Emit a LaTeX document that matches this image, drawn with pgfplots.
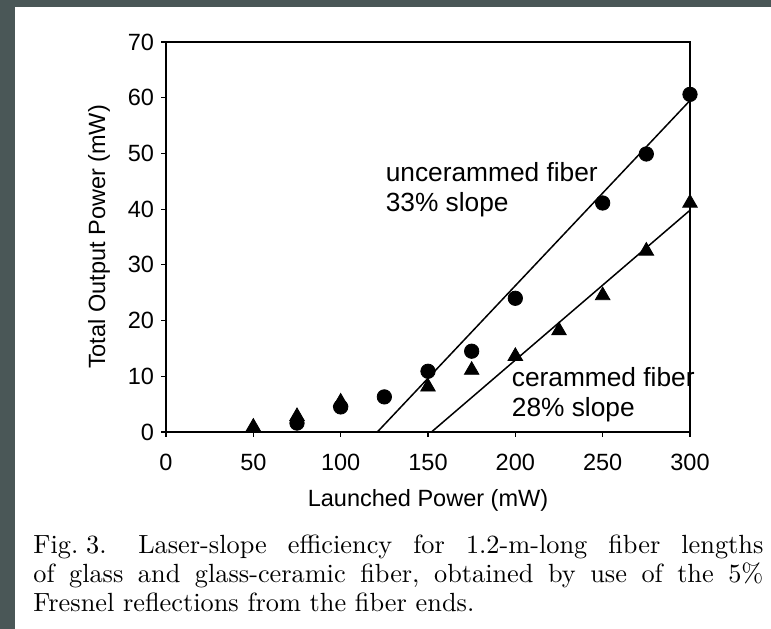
\documentclass[border=0pt]{standalone}
\usepackage{fontspec}
\newfontfamily\arial{Liberation Sans}
\newfontfamily\capfont{lmroman10-regular.otf}
\usepackage{pgfplots}
\pgfplotsset{compat=1.18}
\definecolor{bord}{RGB}{74,87,87}
\begin{document}
\begin{tikzpicture}
\fill[bord] (0,0) rectangle (385.5bp,-314.5bp);
\fill[white] (7.5bp,-3.5bp) rectangle (385.5bp,-314.5bp);
\useasboundingbox (0,0) rectangle (385.5bp,-314.5bp);
\begin{axis}[
  scale only axis, width=262bp, height=195bp,
  at={(83bp,-21bp)}, anchor=north west,
  xmin=0, xmax=300, ymin=0, ymax=70,
  xtick={0,50,...,300}, ytick={0,10,...,70},
  tick align=outside, xtick pos=bottom, ytick pos=left,
  major tick length=2.5bp,
  axis line style={line width=0.8bp},
  every tick/.style={black, line width=0.6bp},
  /pgf/number format/assume math mode=true,
  tick label style={font=\fontsize{11.8}{14}\arial},
  xticklabel style={yshift=-5bp},
  label style={font=\fontsize{11.8}{14}\arial},
  xlabel={Launched Power (mW)}, ylabel={Total Output Power (mW)},
  xlabel style={at={(axis description cs:0.5,-0.176)}, anchor=center},
  ylabel style={at={(axis description cs:-0.128,0.5)}, anchor=center},
  clip=false,
]
\addplot[black, line width=0.75bp, no marks] coordinates {(0,0) (121,0) (300,59.5)};
\addplot[black, line width=0.75bp, no marks] coordinates {(152,0) (300,39.8)};
\addplot[only marks, mark=*, mark size=3.6bp, black] coordinates {
(75,1.6) (100,4.5) (125,6.3) (150,10.9) (175,14.5) (200,24.0) (250,41.1) (275,49.9) (300,60.6)};
\addplot[only marks, mark=triangle*, mark size=4.2bp, black] coordinates {
(50,0.9) (75,2.8) (100,5.4) (150,8.1) (175,11.1) (200,13.6) (225,18.2) (250,24.5) (275,32.5) (300,41.1)};
\node[anchor=base west, inner sep=0, font=\fontsize{13.2}{15}\arial] at (axis cs:125.6,44.9) {uncerammed fiber};
\node[anchor=base west, inner sep=0, font=\fontsize{13.2}{15}\arial] at (axis cs:125.6,39.5) {33\% slope};
\node[anchor=base west, inner sep=0, font=\fontsize{13.2}{15}\arial] at (axis cs:197.8,8.1) {cerammed fiber};
\node[anchor=base west, inner sep=0, font=\fontsize{13.2}{15}\arial] at (axis cs:197.8,2.7) {28\% slope};
\end{axis}
\begin{scope}[font=\fontsize{13.2}{14.5}\capfont\frenchspacing]
\node[anchor=base west, inner sep=0] at (16.5bp,-276.5bp) {\makebox[365bp][s]{\mbox{Fig.\hspace{0.3em}3.}\hspace{1.2em}\mbox{Laser-slope} efficiency for 1.2-m-long fiber lengths}};
\node[anchor=base west, inner sep=0] at (16.5bp,-291bp) {\makebox[365bp][s]{of glass and glass-ceramic fiber, obtained by use of the 5\%}};
\node[anchor=base west, inner sep=0] at (16.5bp,-305.5bp) {Fresnel reflections from the fiber ends.};
\end{scope}
\end{tikzpicture}
\end{document}
